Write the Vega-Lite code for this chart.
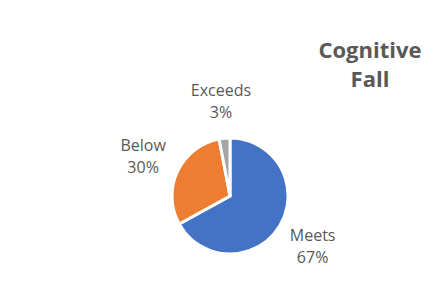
{
  "$schema": "https://vega.github.io/schema/vega-lite/v6.json",
  "width": 420,
  "height": 176,
  "padding": {"left": 20, "top": 108, "right": 0, "bottom": 0},
  "autosize": {"type": "none"},
  "background": "white",
  "config": {"view": {"stroke": null}},
  "title": {
    "text": ["Cognitive", "Fall"],
    "anchor": "end",
    "frame": "group",
    "align": "center",
    "dx": -70,
    "dy": 29,
    "font": "Open Sans",
    "fontSize": 22,
    "fontWeight": "bold",
    "color": "#595959",
    "lineHeight": 29,
    "offset": 20
  },
  "data": {
    "values": [
      {"category": "Meets", "value": 67, "label": ["Meets", "67%"]},
      {"category": "Below", "value": 30, "label": ["Below", "30%"]},
      {"category": "Exceeds", "value": 3, "label": ["Exceeds", "3%"]}
    ]
  },
  "encoding": {
    "theta": {"field": "value", "type": "quantitative", "stack": true},
    "order": {"field": "value", "sort": "descending"}
  },
  "layer": [
    {
      "mark": {"type": "arc", "outerRadius": 58, "stroke": "white", "strokeWidth": 3},
      "encoding": {
        "color": {
          "field": "category",
          "type": "nominal",
          "scale": {"domain": ["Meets", "Below", "Exceeds"], "range": ["#4472C4", "#ED7D31", "#A5A5A5"]},
          "legend": null
        }
      }
    },
    {
      "mark": {"type": "text", "radius": 96, "dy": -9, "font": "Open Sans", "fontSize": 16, "color": "#595959", "lineHeight": 22},
      "encoding": {"text": {"field": "label", "type": "nominal"}}
    }
  ]
}
